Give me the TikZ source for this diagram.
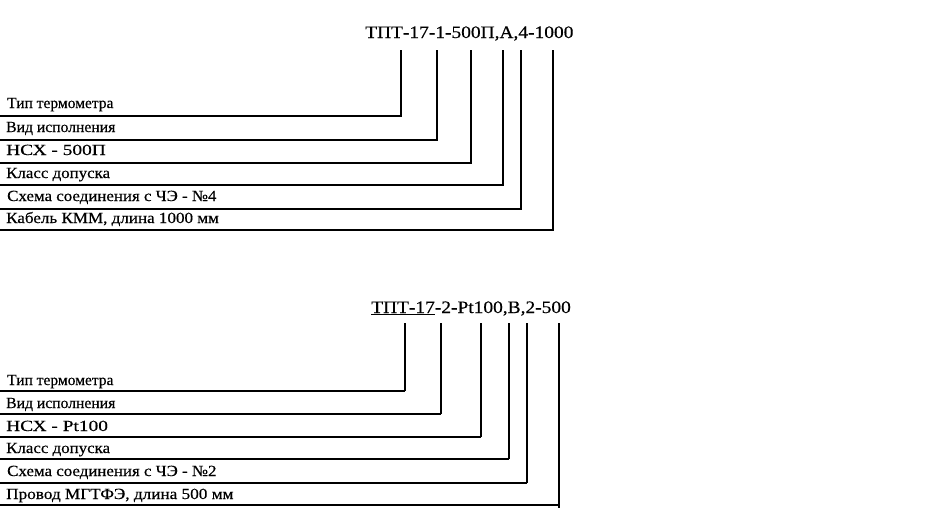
\documentclass[tikz,border=0pt]{standalone}
\usepackage{fontspec}
\setmainfont{Liberation Serif}
\newfontfamily\heavyserif[FakeBold=0.4]{Liberation Serif}
\begin{document}
\begin{tikzpicture}[x=1pt,y=-1pt,
  lbl/.style={anchor=base west,inner sep=0pt,font=\heavyserif\fontsize{15.5}{16}\selectfont},
  ttl/.style={anchor=base west,inner sep=0pt,font=\heavyserif\fontsize{17.5}{18}\selectfont},
  lead/.style={line width=1.4pt,black}]
\useasboundingbox[fill=white] (0,0) rectangle (940,528);
% ---------- top ----------
\node[ttl] (t1) at (365,38) {\scalebox{1.11}[1]{ТПТ-17-1-500П,А,4-1000}};
\foreach \n/\x/\y in {a/401/116,b/437/140,c/471/163,d/503/185,e/521/209,f/553/230}{
  \coordinate (t1\n) at (\x,50);
  \coordinate (t1\n e) at (0,\y);
  \draw[lead] (t1\n) |- (t1\n e);
}
\node[lbl] (l11) at (7,108) {Тип термометра};
\node[lbl] (l12) at (6,132) {\scalebox{1.01}[1]{Вид исполнения}};
\node[lbl] (l13) at (6,155) {\scalebox{1.25}[1]{НСХ - 500П}};
\node[lbl] (l14) at (6,178) {\scalebox{1.09}[1]{Класс допуска}};
\node[lbl] (l15) at (7,201) {\scalebox{1.09}[1]{Схема соединения с ЧЭ - №4}};
\node[lbl] (l16) at (6,223) {\scalebox{1.10}[1]{Кабель КММ, длина 1000 мм}};
% ---------- bottom ----------
\node[ttl] (t2) at (371,313) {\scalebox{1.11}[1]{\underline{ТПТ-17}-2-Pt100,В,2-500}};
\foreach \n/\x/\y/\b in {a/405/391/391,b/441/414/414,c/481/437/437,d/509/459/459,e/527/483/483,f/559/505/508}{
  \coordinate (t2\n) at (\x,323);
  \coordinate (t2\n e) at (0,\y);
  \draw[lead] (t2\n) -- (\x,\b) (\x,\y) -- (t2\n e);
}
\node[lbl] (l21) at (7,385) {Тип термометра};
\node[lbl] (l22) at (6,408) {\scalebox{1.01}[1]{Вид исполнения}};
\node[lbl] (l23) at (6,431) {\scalebox{1.25}[1]{НСХ - Pt100}};
\node[lbl] (l24) at (6,453) {\scalebox{1.09}[1]{Класс допуска}};
\node[lbl] (l25) at (7,476) {\scalebox{1.09}[1]{Схема соединения с ЧЭ - №2}};
\node[lbl] (l26) at (6,499) {\scalebox{1.11}[1]{Провод МГТФЭ, длина 500 мм}};
\end{tikzpicture}
\end{document}
